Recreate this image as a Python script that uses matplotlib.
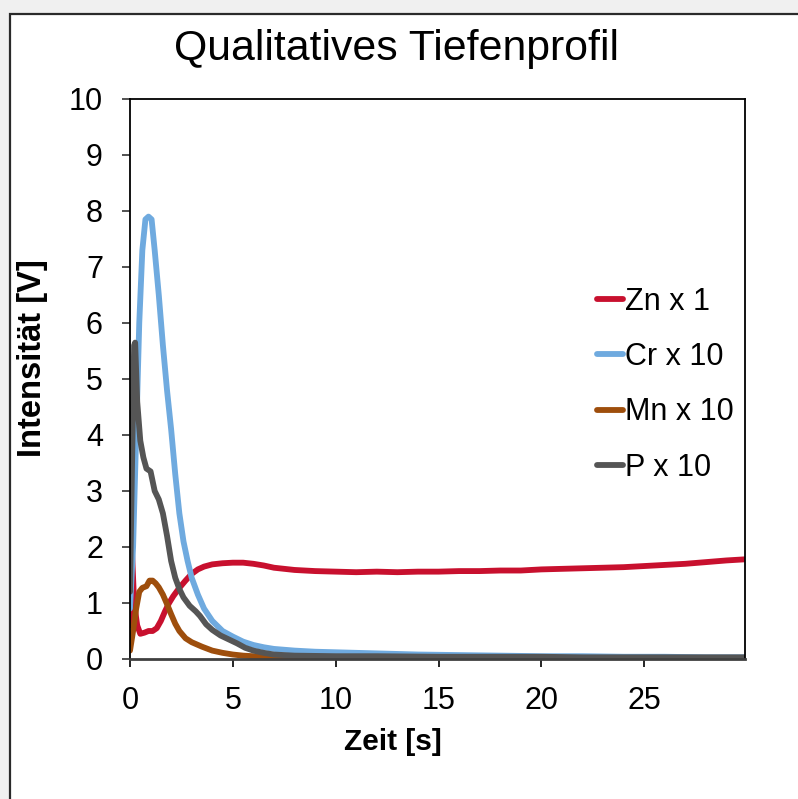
import matplotlib
matplotlib.use("Agg")
import matplotlib.pyplot as plt
from matplotlib.patches import Rectangle

plt.rcParams['font.family'] = ['Liberation Sans', 'DejaVu Sans']

# Zn x 1
zn_t = [0, 0.1, 0.2, 0.35, 0.5, 0.7, 0.9, 1.1, 1.3, 1.5, 1.7, 1.9, 2.1, 2.4, 2.7,
        3.0, 3.3, 3.6, 4.0, 4.5, 5.0, 5.5, 6.0, 6.5, 7.0, 7.5, 8.0, 9.0, 10, 11,
        12, 13, 14, 15, 16, 17, 18, 19, 20, 21, 22, 23, 24, 25, 26, 27, 28, 29, 29.9]
zn_v = [0.6, 1.9, 1.0, 0.6, 0.45, 0.47, 0.5, 0.5, 0.55, 0.68, 0.85, 1.0, 1.12, 1.27, 1.4,
        1.52, 1.6, 1.65, 1.69, 1.71, 1.72, 1.72, 1.70, 1.67, 1.63, 1.61, 1.59, 1.57, 1.56, 1.55,
        1.56, 1.55, 1.56, 1.56, 1.57, 1.57, 1.58, 1.58, 1.60, 1.61, 1.62, 1.63, 1.64, 1.66,
        1.68, 1.70, 1.73, 1.76, 1.78]

# Cr x 10
cr_t = [0, 0.15, 0.3, 0.45, 0.6, 0.75, 0.9, 1.05, 1.2, 1.4, 1.6, 1.8, 2.0, 2.2, 2.4,
        2.6, 2.8, 3.0, 3.3, 3.6, 4.0, 4.5, 5.0, 5.5, 6.0, 6.5, 7.0, 8, 9, 10, 12, 14,
        16, 18, 20, 22, 24, 26, 28, 29.9]
cr_v = [0.9, 2.0, 4.0, 6.0, 7.3, 7.85, 7.9, 7.85, 7.3, 6.5, 5.6, 4.8, 4.1, 3.3, 2.6,
        2.1, 1.75, 1.45, 1.15, 0.9, 0.68, 0.5, 0.4, 0.31, 0.25, 0.21, 0.18, 0.15, 0.13,
        0.12, 0.10, 0.08, 0.07, 0.06, 0.05, 0.05, 0.04, 0.04, 0.03, 0.03]

# Mn x 10
mn_t = [0, 0.15, 0.3, 0.45, 0.6, 0.8, 0.95, 1.1, 1.25, 1.4, 1.6, 1.8, 2.0, 2.2, 2.4,
        2.7, 3.0, 3.5, 4.0, 4.5, 5.0, 5.5, 6, 7, 8, 10, 12, 15, 20, 25, 29.9]
mn_v = [0.15, 0.5, 0.9, 1.2, 1.27, 1.3, 1.4, 1.4, 1.35, 1.28, 1.15, 0.98, 0.8, 0.63, 0.5,
        0.37, 0.3, 0.22, 0.15, 0.11, 0.08, 0.06, 0.05, 0.03, 0.02, 0.01, 0.01, 0.01,
        0.01, 0.01, 0.01]

# P x 10
p_t = [0, 0.1, 0.2, 0.25, 0.35, 0.5, 0.65, 0.8, 1.0, 1.2, 1.4, 1.6, 1.8, 2.0, 2.2, 2.4,
       2.6, 2.9, 3.2, 3.4, 3.7, 4.0, 4.4, 4.8, 5.2, 5.6, 6.0, 6.5, 7, 8, 10, 12, 15, 18,
       20, 22, 25, 28, 29.9]
p_v = [1.2, 3.5, 5.6, 5.65, 4.6, 3.9, 3.6, 3.4, 3.35, 3.0, 2.85, 2.6, 2.2, 1.75, 1.45,
       1.25, 1.1, 0.95, 0.85, 0.77, 0.62, 0.52, 0.42, 0.35, 0.28, 0.2, 0.15, 0.11, 0.08,
       0.06, 0.05, 0.05, 0.04, 0.04, 0.04, 0.03, 0.03, 0.03, 0.03]

series = [
    ("Zn x 1", zn_t, zn_v, "#C8102E"),
    ("Cr x 10", cr_t, cr_v, "#6FAADF"),
    ("Mn x 10", mn_t, mn_v, "#9E4E0C"),
    ("P x 10", p_t, p_v, "#555555"),
]

x_ticks = [0, 5, 10, 15, 20, 25]
y_ticks = list(range(0, 11))

fig = plt.figure(figsize=(7.98, 7.99), dpi=100)
fig.patch.set_facecolor("#F0F0F0")

# white chart panel with a dark frame on the visible edges
panel = Rectangle((10 / 798, -0.05), 1.2, 1 - 14 / 799 + 0.05,
                  transform=fig.transFigure, facecolor="white",
                  edgecolor="#2a2a2a", linewidth=1.6, zorder=-10)
fig.patches.append(panel)

ax = fig.add_axes([130 / 798, 1 - 659 / 799, (745 - 130) / 798, (659 - 99) / 799])
ax.set_facecolor("white")

for label, t, v, c in series:
    ax.plot(t, v, color=c, linewidth=4.2, label=label, solid_capstyle="round",
            solid_joinstyle="round")

ax.set_xlim(0, 29.9)
ax.set_ylim(0, 10)
ax.set_xticks(x_ticks)
ax.set_yticks(y_ticks)
ax.tick_params(axis="both", direction="out", length=6, width=1.2, pad=13.5,
               labelsize=22, colors="black")
ax.tick_params(axis="y", color="#333333")

for s in ["top", "right", "left"]:
    ax.spines[s].set_color("black")
    ax.spines[s].set_linewidth(1.3)
ax.spines["bottom"].set_color("#404040")
ax.spines["bottom"].set_linewidth(2.0)

# axis titles placed in figure coordinates
fig.text(393 / 798, 1 - 742 / 799, "Zeit [s]", fontsize=21.5, fontweight="bold",
         ha="center", va="center")
fig.text(33 / 798, 1 - 358 / 799, "Intensität [V]", fontsize=23.5, fontweight="bold",
         ha="center", va="center", rotation=90)

fig.text(396 / 798, 1 - 49 / 799, "Qualitatives Tiefenprofil", fontsize=30.8,
         ha="center", va="center")

ax.legend(loc="upper left", bbox_to_anchor=(0.74, 0.687), frameon=False,
          fontsize=22, handlelength=0.85, handletextpad=0.05, labelspacing=0.83,
          borderaxespad=0)

fig.savefig("out.png", dpi=100, facecolor=fig.get_facecolor())
